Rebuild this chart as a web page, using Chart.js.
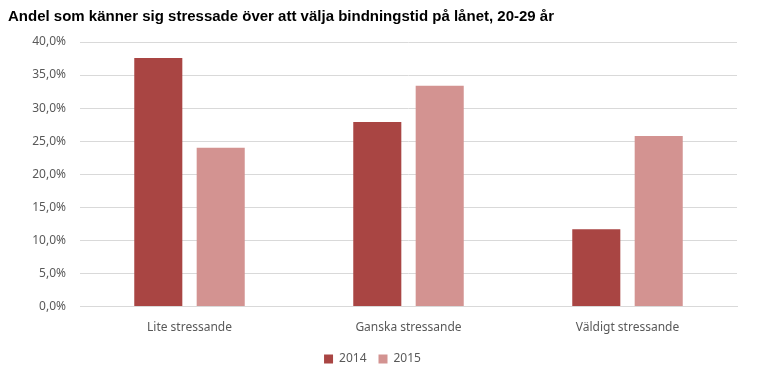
<!DOCTYPE html>
<html>
<head>
<meta charset="utf-8">
<script src="https://cdn.jsdelivr.net/npm/chart.js@4"></script>
<style>
  html, body { margin: 0; padding: 0; background: #fff; }
  #wrap { width: 765px; height: 387px; position: relative; }
</style>
</head>
<body>
<div id="wrap"><canvas id="chart"></canvas></div>
<script>
const categories = ['Lite stressande', 'Ganska stressande', 'Väldigt stressande'];
const years = ['2014', '2015'];
const values2014 = [37.6, 27.9, 11.7];
const values2015 = [24.0, 33.4, 25.8];
const yTicks = [0, 5, 10, 15, 20, 25, 30, 35, 40];

const colors = { '2014': '#a94543', '2015': '#d39391' };
const tickFont = { family: 'Noto Sans', size: 12 };

const fmt = (v) => v.toFixed(1).replace('.', ',') + '%';

const ctx = document.getElementById('chart').getContext('2d');

new Chart(ctx, {
  type: 'bar',
  data: {
    labels: categories,
    datasets: [
      { label: years[0], data: values2014, backgroundColor: colors['2014'] },
      { label: years[1], data: values2015, backgroundColor: colors['2015'] }
    ]
  },
  options: {
    responsive: true,
    maintainAspectRatio: false,
    animation: false,
    categoryPercentage: 0.57,
    barPercentage: 0.77,
    layout: { padding: { left: 8, right: 28, top: 0, bottom: 12 } },
    plugins: {
      title: {
        display: true,
        text: 'Andel som känner sig stressade över att välja bindningstid på lånet, 20-29 år',
        align: 'start',
        color: '#000',
        font: { family: 'Liberation Sans', size: 15, weight: 'bold' },
        padding: { top: 8, bottom: 16 }
      },
      legend: {
        position: 'bottom',
        labels: {
          boxWidth: 9,
          boxHeight: 9,
          color: '#595959',
          font: tickFont,
          padding: 12
        }
      },
      tooltip: { enabled: false }
    },
    scales: {
      x: {
        grid: { display: false },
        border: { color: '#d9d9d9' },
        ticks: { color: '#595959', font: tickFont, padding: 6 }
      },
      y: {
        min: 0,
        max: 40,
        afterFit: (axis) => { axis.width = 72; },
        afterBuildTicks: (axis) => { axis.ticks = yTicks.map(v => ({ value: v })); },
        grid: { color: '#d9d9d9', drawTicks: false },
        border: { display: false },
        ticks: {
          color: '#595959',
          font: tickFont,
          padding: 14,
          callback: (v) => fmt(v)
        }
      }
    }
  }
});
</script>
</body>
</html>
